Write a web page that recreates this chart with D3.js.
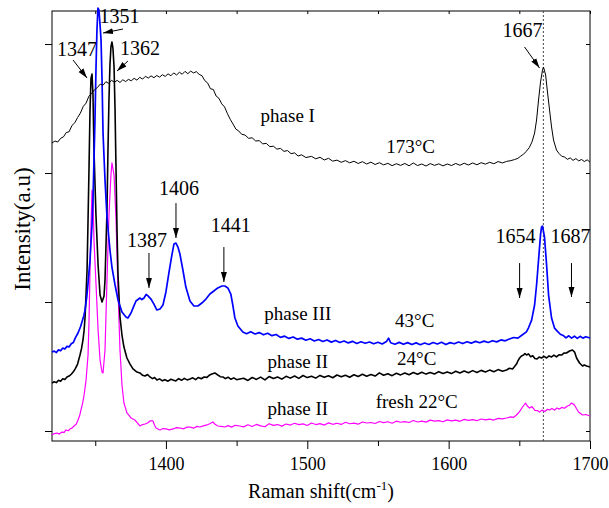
<!DOCTYPE html>
<html>
<head>
<meta charset="utf-8">
<script src="https://cdn.jsdelivr.net/npm/d3@7"></script>
<style>
  html, body { margin: 0; padding: 0; background: #fff; }
  svg text { font-family: "Liberation Serif", "Times New Roman", serif; fill: #000; }
</style>
</head>
<body>
<svg id="chart" width="609" height="508"></svg>
<script>
// Raman spectra, [shift (cm-1), intensity (a.u.)]

// phase I, 173 °C
const phaseI173 = [
  [1319.4,223.3],[1321.5,224.8],[1323.5,224.0],[1325.5,226.9],[1327.5,228.0],[1329.5,231.4],[1331.5,232.0],
  [1333.5,236.8],[1335.5,238.9],[1337.5,243.0],[1339.5,246.5],[1341.5,251.6],[1343.5,254.2],[1345.5,259.5],
  [1347.5,261.8],[1349.5,264.6],[1351.5,266.2],[1353.5,268.9],[1355.5,268.0],[1357.5,270.8],[1359.5,269.5],
  [1361.5,271.9],[1363.5,270.4],[1365.5,271.8],[1367.5,270.2],[1369.5,272.3],[1371.5,270.9],[1373.5,272.6],
  [1375.5,271.5],[1377.5,273.4],[1379.5,272.0],[1381.5,274.2],[1383.5,272.8],[1385.5,275.0],[1387.5,273.6],
  [1389.5,275.3],[1391.5,273.9],[1393.5,275.6],[1395.5,274.3],[1397.5,276.2],[1399.5,274.9],[1401.5,276.9],
  [1403.5,275.4],[1405.5,277.6],[1407.5,276.0],[1409.5,278.1],[1411.5,276.6],[1413.5,278.8],[1415.5,277.0],
  [1417.5,279.0],[1419.5,277.6],[1421.5,278.6],[1423.5,276.5],[1425.5,275.4],[1427.5,271.6],[1429.5,269.8],
  [1431.5,265.3],[1433.5,264.8],[1435.5,259.7],[1437.5,257.9],[1439.5,253.6],[1441.5,251.2],[1443.5,246.0],
  [1445.5,241.6],[1447.5,237.9],[1449.5,234.0],[1451.5,232.6],[1453.5,230.1],[1456,229.4],[1458.5,226.9],
  [1461,227.3],[1463.5,224.8],[1466,225.1],[1468.5,222.6],[1471,223.0],[1473.5,220.4],[1476,220.8],
  [1478.5,218.5],[1481,219.1],[1483.5,216.8],[1486,217.4],[1488.5,215.0],[1491,215.6],[1493.5,213.2],
  [1496,214.1],[1499,212.0],[1503,212.9],[1506,211.0],[1509,212.2],[1512,210.1],[1515,211.4],[1518,209.2],
  [1521,210.0],[1524,208.3],[1527,209.6],[1530,207.9],[1533,209.1],[1536,207.4],[1539,208.8],[1542,207.0],
  [1545,208.4],[1548,206.6],[1551,208.0],[1554,206.3],[1557,207.5],[1560,205.7],[1563,207.2],[1566,205.9],
  [1569,207.4],[1572,205.6],[1575,207.8],[1578,205.8],[1581,207.0],[1584,205.4],[1587,207.3],[1590,205.9],
  [1593,207.1],[1596,205.5],[1599,207.0],[1602,205.8],[1605,207.4],[1608,206.0],[1611,207.6],[1614,206.2],
  [1617,207.8],[1620,206.4],[1623,208.0],[1626,206.9],[1629,208.3],[1632,207.2],[1635,208.9],[1638,207.8],
  [1641,209.0],[1644,209.6],[1646.5,210.4],[1649,211.4],[1651,213.1],[1653,214.6],[1655,216.9],[1657,219.6],
  [1659,224.2],[1660.8,231.0],[1662.2,241.1],[1663.6,256.6],[1665,270.5],[1666.4,279.8],[1667.1,282.2],
  [1668.6,276.0],[1670,262.0],[1671.4,248.8],[1672.8,235.7],[1674.2,225.6],[1676.3,217.8],[1678,215.2],
  [1680,213.0],[1682,212.4],[1684,210.6],[1686,211.7],[1688,209.8],[1690,211.2],[1692,209.4],[1694,210.5],
  [1696,208.9],[1698,210.2],[1700,208.5]
];

// phase III, 43 °C
const phaseIII43 = [
  [1319.4,61.2],[1321,61.9],[1322.5,60.8],[1324,62.9],[1325.5,62.2],[1327,64.3],[1328.5,63.5],[1330,65.6],
  [1331.5,65.2],[1333,67.6],[1334.5,68.6],[1336,72.4],[1337.8,76.0],[1339.5,80.6],[1340.6,84.5],[1342,89.8],
  [1342.8,93.8],[1344,104.0],[1344.9,114.7],[1346.3,132.6],[1347.7,159.7],[1348.4,179.0],[1349.1,210.0],
  [1349.8,241.0],[1350.5,279.8],[1351.2,310.9],[1351.9,327.9],[1352.6,326.4],[1353.4,314.7],[1354.1,303.1],
  [1354.8,272.1],[1355.5,231.0],[1356.9,194.6],[1358.3,165.9],[1360.4,140.3],[1361.8,127.1],[1364,113.2],
  [1366.1,101.6],[1368.9,92.2],[1371.7,88.4],[1373.1,87.6],[1375.3,91.5],[1376.7,95.3],[1378.8,100.8],
  [1381.6,103.1],[1383,101.9],[1384.5,103.1],[1386,105.9],[1387.3,104.7],[1389.4,102.3],[1391.5,98.4],
  [1393.6,93.8],[1395.8,94.6],[1397.9,97.7],[1400,107.8],[1402.1,122.5],[1404.2,136.4],[1405.7,145.0],
  [1407.1,145.7],[1408.5,142.6],[1409.9,137.2],[1412,124.8],[1414.1,111.6],[1417,100.8],[1419.8,96.9],
  [1422.6,96.9],[1425.4,99.2],[1428.3,102.3],[1431.1,106.2],[1433.9,108.5],[1436.7,110.9],[1439.6,112.4],
  [1441.7,112.4],[1443.8,110.9],[1445.9,106.2],[1447.3,97.7],[1448.8,87.6],[1450.9,81.4],[1454.4,76.7],
  [1457,75.4],[1460,77.0],[1463,75.2],[1466,76.3],[1469,74.6],[1472,75.8],[1475,73.9],[1478,74.8],
  [1481,72.6],[1484,73.5],[1487,71.8],[1490,72.9],[1493,71.2],[1496,72.0],[1499,70.4],[1502,71.5],
  [1505,69.8],[1508,70.9],[1511,69.4],[1514,70.6],[1517,68.9],[1520,70.2],[1523,68.6],[1526,69.8],
  [1529,68.3],[1532,69.5],[1535,67.9],[1538,69.2],[1541,68.0],[1544,69.0],[1547,67.6],[1550,68.8],
  [1553,67.5],[1556,69.3],[1557.5,72.0],[1559,68.4],[1562,67.3],[1565,68.7],[1568,67.2],[1571,68.5],
  [1574,67.0],[1577,68.3],[1580,66.9],[1583,68.2],[1586,67.1],[1589,68.6],[1592,67.4],[1595,68.8],
  [1598,67.0],[1601,68.5],[1604,67.6],[1607,69.0],[1610,67.8],[1613,69.2],[1616,68.1],[1619,69.5],
  [1622,68.4],[1625,69.7],[1628,68.6],[1631,70.0],[1634,69.1],[1637,70.6],[1640,69.9],[1643,71.3],
  [1646,72.5],[1649,72.0],[1652,74.4],[1655,76.8],[1656.5,80.0],[1658.7,86.0],[1660.8,97.7],[1662.2,113.2],
  [1663.6,132.6],[1665,152.0],[1665.7,158.1],[1666.4,158.9],[1667.8,150.4],[1669.3,128.7],[1670.7,105.4],
  [1672.8,87.6],[1674.9,79.8],[1677,77.2],[1679,75.0],[1681,74.1],[1683,72.2],[1685,73.8],[1687,72.0],
  [1689,73.5],[1691,71.8],[1693,73.4],[1695,72.0],[1697,73.1],[1700,72.1]
];

// phase II, 24 °C
const phaseII24 = [
  [1319.4,37.2],[1321,38.2],[1322.5,37.5],[1324,39.3],[1325.5,38.6],[1327,40.5],[1328.5,39.9],[1330,41.8],
  [1331.5,42.6],[1333,44.0],[1334.5,45.9],[1336,48.6],[1337.5,51.9],[1339.2,58.9],[1340.3,64.0],[1341.3,70.5],
  [1342.1,78.0],[1342.8,88.4],[1344.2,124.8],[1344.9,163.6],[1345.6,204.7],[1346.3,248.8],[1347,273.6],
  [1347.7,276.7],[1348.4,260.5],[1349.1,217.8],[1350.5,167.4],[1352,128.7],[1353.4,105.4],[1354.8,100.0],
  [1356.2,104.7],[1356.9,117.0],[1358.3,171.3],[1359,217.8],[1359.7,256.6],[1360.4,283.7],[1361.1,297.7],
  [1361.8,301.6],[1362.5,296.9],[1363.3,282.2],[1364,248.8],[1364.7,202.3],[1365.4,155.8],[1366.1,120.9],
  [1367.5,88.4],[1368.9,74.4],[1370.3,65.1],[1372.4,56.6],[1374.6,51.9],[1376.7,48.1],[1379.5,45.7],
  [1381.6,45.0],[1383.5,43.2],[1385.2,42.6],[1387,43.8],[1388.7,41.9],[1390.5,40.6],[1392,41.5],[1393.6,39.5],
  [1395.5,40.4],[1397.5,38.9],[1399.3,39.8],[1401.5,38.6],[1403.5,40.1],[1405,39.5],[1407,38.8],[1409,40.6],
  [1411,39.3],[1413,40.8],[1415,39.6],[1417,40.3],[1419,41.2],[1421,39.8],[1423,41.5],[1425,40.5],
  [1427,41.9],[1429,41.6],[1431,43.5],[1432.5,44.2],[1434.6,45.0],[1436.7,43.4],[1438.5,42.1],[1440.3,41.9],
  [1442,40.6],[1444,41.7],[1446,40.1],[1448,41.2],[1450,39.8],[1452.3,40.3],[1455,40.9],[1458,39.2],
  [1461,41.5],[1464,40.0],[1467,41.8],[1470,39.6],[1473,42.2],[1476,40.7],[1479,41.9],[1482,40.2],
  [1485,42.4],[1488,41.0],[1491,42.6],[1494,40.8],[1497,43.0],[1500,41.4],[1503,42.5],[1506,41.0],
  [1509,43.1],[1512,41.6],[1515,42.8],[1518,41.3],[1521,43.4],[1524,42.0],[1527,43.2],[1530,41.7],
  [1533,43.6],[1536,42.2],[1539,44.0],[1542,42.5],[1545,43.8],[1548,42.6],[1551,45.1],[1554,43.2],
  [1557,44.4],[1560,42.9],[1563,44.8],[1566,43.5],[1569,45.0],[1572,43.6],[1575,45.3],[1578,44.0],
  [1581,45.6],[1584,44.1],[1587,45.4],[1590,44.2],[1593,46.0],[1596,44.6],[1599,45.8],[1602,44.5],
  [1605,46.3],[1608,45.0],[1611,46.5],[1614,45.2],[1617,46.8],[1620,45.4],[1623,47.0],[1626,45.8],
  [1629,47.2],[1632,46.0],[1635,47.6],[1638,46.4],[1641,47.3],[1643,48.6],[1645.2,48.1],[1646.5,49.8],
  [1648,51.9],[1649,54.3],[1650.2,56.6],[1651.5,58.2],[1653,58.9],[1654,60.1],[1655.1,58.9],[1656.5,59.8],
  [1658,57.6],[1659.5,58.4],[1661,56.2],[1662.5,55.8],[1664,57.3],[1665.7,56.6],[1667.5,57.9],[1669.3,56.6],
  [1671,58.2],[1672.8,57.4],[1674.5,58.8],[1676.3,57.4],[1678,59.0],[1679.9,58.9],[1681.5,60.4],[1683.4,60.5],
  [1685.5,62.0],[1687.6,62.8],[1689.1,61.2],[1690.5,56.6],[1692.6,52.7],[1694.7,50.4],[1696,51.2],
  [1697.6,50.4],[1700,49.6]
];

// phase II, fresh sample, 22 °C
const phaseIIfresh22 = [
  [1319.4,-3.1],[1321,-2.0],[1323,-1.6],[1324.5,-2.4],[1326.5,-0.8],[1328,-1.1],[1329.3,0.8],[1331,0.2],
  [1332.2,1.6],[1333.5,2.2],[1335,3.9],[1336.5,5.2],[1337.8,8.5],[1339,12.0],[1339.9,16.3],[1341,21.2],
  [1342.1,27.9],[1343.5,39.5],[1344.9,58.9],[1345.6,86.0],[1346.3,124.8],[1347,159.7],[1347.7,186.8],
  [1348.4,179.0],[1349.1,148.0],[1350.5,114.7],[1352,78.3],[1353.4,55.0],[1354.8,45.7],[1355.5,45.0],
  [1356.9,62.8],[1358.3,117.0],[1359.7,167.4],[1361.1,198.4],[1361.8,207.8],[1363.3,198.4],[1364.7,163.6],
  [1366.1,109.3],[1367.5,62.8],[1368.9,35.7],[1370.3,21.7],[1372.4,14.0],[1375.3,10.1],[1378.1,8.5],
  [1381.6,3.9],[1383.5,5.0],[1385.2,5.4],[1387,6.2],[1388.7,7.8],[1390.8,7.8],[1392,4.5],[1393,2.3],
  [1395.8,0.8],[1398,1.9],[1400,1.6],[1402.5,0.9],[1405,1.6],[1407.5,2.6],[1409.9,2.3],[1412.5,1.7],
  [1415,3.0],[1417,3.1],[1419.5,2.2],[1422,3.6],[1424,3.1],[1426.5,4.0],[1429,4.7],[1431,5.6],[1433.2,7.0],
  [1435,5.0],[1436.7,3.9],[1439,3.6],[1441.7,3.1],[1444,4.2],[1446.5,3.0],[1449,4.4],[1452.3,3.9],
  [1455,3.2],[1458,4.8],[1461,3.5],[1464,5.1],[1467,4.0],[1470,3.3],[1473,5.6],[1476,4.4],[1479,5.0],
  [1482,3.8],[1485,5.4],[1488,4.6],[1491,6.0],[1494,4.9],[1497,5.5],[1500,4.3],[1503,6.2],[1506,5.0],
  [1509,5.7],[1512,4.6],[1515,6.3],[1518,5.2],[1521,6.0],[1524,5.1],[1527,6.8],[1530,5.6],[1533,6.1],
  [1536,5.3],[1539,7.0],[1542,6.2],[1545,6.6],[1548,5.8],[1551,7.4],[1554,6.5],[1557,7.2],[1560,6.0],
  [1563,7.6],[1566,6.8],[1569,7.3],[1572,6.6],[1575,8.1],[1578,7.0],[1581,7.7],[1584,6.9],[1587,8.4],
  [1590,7.6],[1593,8.0],[1596,7.2],[1599,8.6],[1602,7.9],[1605,8.4],[1608,7.5],[1611,9.0],[1614,8.2],
  [1617,8.8],[1620,8.0],[1623,9.3],[1626,8.6],[1629,9.2],[1632,8.5],[1635,9.8],[1638,9.4],[1641,10.1],
  [1644,11.0],[1646,10.6],[1648,12.4],[1650,14.8],[1652.3,18.6],[1654.4,21.7],[1655.5,19.6],[1657.2,17.8],
  [1659,18.9],[1661,16.0],[1663,15.8],[1664.3,14.7],[1666,16.2],[1668,15.1],[1670,16.8],[1671.4,16.3],
  [1673,17.5],[1675,16.2],[1676.5,17.8],[1678.4,17.0],[1680,18.3],[1682,17.6],[1684,19.4],[1685.5,20.0],
  [1686.9,21.7],[1689,20.2],[1690.5,17.3],[1691.9,14.7],[1693.3,13.6],[1694.7,12.4],[1697,12.8],[1700,11.6]
];

// axis ticks
const xMajorTicks = [1400, 1500, 1600, 1700];
const xMinorTicks = [1350, 1450, 1550, 1650];
const yTicks = [0, 100, 200, 300];

// peak labels: text anchor and arrow from -> to, in data units
const peakLabels = ["1347", "1351", "1362", "1667", "1387", "1406", "1441", "1654", "1687"];
const peakTextPos = [[1337.1,290.7],[1367.1,316.3],[1381.6,291.5],[1652.3,305.4],[1386.6,142.6],[1409.2,182.9],[1445.9,154.3],[1647.3,145.7],[1686.2,145.7]];
const peakArrows = [
  [[1334.3,287.6],[1344.2,273.6]],
  [[1369.6,311.6],[1355.5,308.5]],
  [[1373.1,286.8],[1365.4,279.1]],
  [[1653.7,297.7],[1664.3,281.4]],
  [[1388.0,138.0],[1388.0,110.9]],
  [[1407.1,176.7],[1407.1,149.6]],
  [[1441.0,142.6],[1441.0,115.5]],
  [[1650.2,130.2],[1650.2,103.1]],
  [[1686.9,130.2],[1686.9,103.9]]
];

// phase / temperature captions
const captionTexts = ["phase I", "173°C", "phase III", "43°C", "phase II", "24°C", "phase II", "fresh 22°C"];
const captionPos = [[1486.2,239.5],[1573.1,215.5],[1493.3,86.0],[1576.0,80.6],[1493.3,48.8],[1577.4,51.2],[1493.3,12.4],[1577.4,17.8]];

const markerShift = 1667;

const svg = d3.select("#chart");
const margin = {left: 52, right: 19, top: 11, bottom: 67};
const W = 609, H = 508;

const x = d3.scaleLinear().domain([1319.4, 1700]).range([margin.left, W - margin.right]);
const y = d3.scaleLinear().domain([-7.75, 325.6]).range([H - margin.bottom, margin.top]);

const x0 = x.range()[0], x1 = x.range()[1], y0 = y.range()[0], y1 = y.range()[1];

// frame
svg.append("rect")
  .attr("x", x0).attr("y", y1)
  .attr("width", x1 - x0).attr("height", y0 - y1)
  .attr("fill", "none").attr("stroke", "#000").attr("stroke-width", 1);

// bottom axis: labelled majors, unlabelled minors
const gx = svg.append("g").attr("transform", `translate(0,${y0})`)
  .call(d3.axisBottom(x).tickValues(xMajorTicks).tickSize(8).tickSizeOuter(0).tickFormat(d3.format("d")));
gx.select(".domain").remove();
gx.selectAll("text").attr("font-size", 18).attr("dy", "1.0em")
  .style("font-family", "'Liberation Serif', serif");
svg.append("g").attr("transform", `translate(0,${y0})`)
  .call(d3.axisBottom(x).tickValues(xMinorTicks).tickSize(5).tickFormat(""))
  .select(".domain").remove();

// top axis: small inward ticks
svg.append("g").attr("transform", `translate(0,${y1})`)
  .call(d3.axisBottom(x).tickValues(xMajorTicks.concat(xMinorTicks)).tickSize(3).tickFormat(""))
  .select(".domain").remove();

// left axis: outward ticks, no labels
svg.append("g").attr("transform", `translate(${x0},0)`)
  .call(d3.axisLeft(y).tickValues(yTicks).tickSize(7).tickFormat(""))
  .select(".domain").remove();

// right axis: inward ticks
svg.append("g").attr("transform", `translate(${x1},0)`)
  .call(d3.axisLeft(y).tickValues(yTicks).tickSize(4).tickFormat(""))
  .select(".domain").remove();

// dotted guide at the 1667 band
svg.append("line")
  .attr("x1", x(markerShift)).attr("x2", x(markerShift))
  .attr("y1", y1).attr("y2", y0)
  .attr("stroke", "#444").attr("stroke-width", 1).attr("stroke-dasharray", "2,2");

// spectra
const line = d3.line().x(d => x(d[0])).y(d => y(d[1]));
const spectra = [
  {data: phaseIIfresh22, color: "#ff00ff", width: 1.2},
  {data: phaseII24, color: "#000000", width: 1.6},
  {data: phaseIII43, color: "#0000ff", width: 1.7},
  {data: phaseI173, color: "#000000", width: 1.0}
];
svg.append("g").selectAll("path").data(spectra).join("path")
  .attr("d", d => line(d.data))
  .attr("fill", "none")
  .attr("stroke", d => d.color)
  .attr("stroke-width", d => d.width)
  .attr("stroke-linejoin", "round");

// arrowhead
svg.append("defs").append("marker")
  .attr("id", "arrowhead")
  .attr("viewBox", "0 0 10 10")
  .attr("refX", 10).attr("refY", 5)
  .attr("markerWidth", 10).attr("markerHeight", 10)
  .attr("markerUnits", "userSpaceOnUse")
  .attr("orient", "auto")
  .append("path").attr("d", "M0,2 L10,5 L0,8 Z").attr("fill", "#000");

// peak annotations
const ann = svg.append("g");
peakLabels.forEach((label, i) => {
  ann.append("text")
    .attr("x", x(peakTextPos[i][0])).attr("y", y(peakTextPos[i][1]))
    .attr("text-anchor", "middle").attr("font-size", 20)
    .text(label);
  const [a, b] = peakArrows[i];
  ann.append("line")
    .attr("x1", x(a[0])).attr("y1", y(a[1]))
    .attr("x2", x(b[0])).attr("y2", y(b[1]))
    .attr("stroke", "#000").attr("stroke-width", 1)
    .attr("marker-end", "url(#arrowhead)");
});

// captions
svg.append("g").selectAll("text").data(captionTexts).join("text")
  .attr("x", (d, i) => x(captionPos[i][0]))
  .attr("y", (d, i) => y(captionPos[i][1]))
  .attr("text-anchor", "middle").attr("font-size", 19)
  .text(d => d);

// axis titles
const xt = svg.append("text")
  .attr("x", (x0 + x1) / 2).attr("y", 498)
  .attr("text-anchor", "middle").attr("font-size", 20);
xt.append("tspan").text("Raman shift(cm");
xt.append("tspan").attr("font-size", 13).attr("dy", -8).text("-1");
xt.append("tspan").attr("dy", 8).text(")");

svg.append("text")
  .attr("transform", `translate(30,229) rotate(-90)`)
  .attr("text-anchor", "middle").attr("font-size", 23)
  .text("Intensity(a.u)");
</script>
</body>
</html>
